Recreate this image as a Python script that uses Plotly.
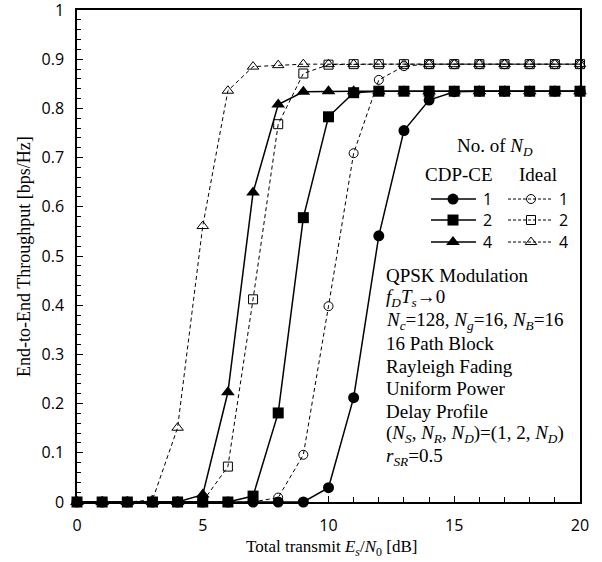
import plotly.graph_objects as go

snr_db = list(range(0, 21))

cdp_nd1 = [0, 0, 0, 0, 0, 0, 0, 0, 0, 0, 0.029, 0.212, 0.541, 0.755, 0.817, 0.834, 0.835, 0.835, 0.835, 0.835, 0.835]
cdp_nd2 = [0, 0, 0, 0, 0, 0, 0, 0.012, 0.181, 0.578, 0.783, 0.832, 0.835, 0.835, 0.835, 0.835, 0.835, 0.835, 0.835, 0.835, 0.835]
cdp_nd4 = [0, 0, 0, 0, 0, 0.015, 0.223, 0.629, 0.808, 0.834, 0.835, 0.835, 0.835, 0.835, 0.835, 0.835, 0.835, 0.835, 0.835, 0.835, 0.835]
ideal_nd1 = [0, 0, 0, 0, 0, 0, 0, 0, 0.009, 0.096, 0.398, 0.709, 0.858, 0.886, 0.89, 0.89, 0.89, 0.89, 0.89, 0.89, 0.89]
ideal_nd2 = [0, 0, 0, 0, 0, 0.001, 0.072, 0.412, 0.768, 0.871, 0.889, 0.89, 0.89, 0.89, 0.89, 0.89, 0.89, 0.89, 0.89, 0.89, 0.89]
ideal_nd4 = [0, 0, 0, 0.004, 0.151, 0.561, 0.836, 0.885, 0.888, 0.89, 0.89, 0.89, 0.89, 0.89, 0.89, 0.89, 0.89, 0.89, 0.89, 0.89, 0.89]

nd_labels = ["1", "2", "4"]
x_ticks = [0, 5, 10, 15, 20]
y_ticks = [0, 0.1, 0.2, 0.3, 0.4, 0.5, 0.6, 0.7, 0.8, 0.9, 1]
y_tick_text = ["0", "0.1", "0.2", "0.3", "0.4", "0.5", "0.6", "0.7", "0.8", "0.9", "1"]

SERIF = "Liberation Serif"
SANS = "Open Sans"

# plot area in figure pixels
L, R, T, B = 77, 580, 10, 502
W, H = 602, 562


def px_to_data_x(px):
    return (px - L) / (R - L) * 20.0


def px_to_data_y(py):
    return (B - py) / (B - T)


def px_to_paper_x(px):
    return (px - L) / (R - L)


def px_to_paper_y(py):
    return (B - py) / (B - T)


fig = go.Figure()

ideal_specs = [(ideal_nd4, "triangle-up-open", 10), (ideal_nd2, "square-open", 9), (ideal_nd1, "circle-open", 9)]
for ys, sym, sz in ideal_specs:
    fig.add_trace(go.Scatter(x=snr_db, y=ys, mode="lines+markers",
                             line=dict(color="black", width=1, dash="4px,3px"),
                             marker=dict(symbol=sym, size=sz, color="black", line=dict(width=1, color="black")),
                             cliponaxis=False, showlegend=False))

cdp_specs = [(cdp_nd1, "circle", 11), (cdp_nd2, "square", 11), (cdp_nd4, "triangle-up", 12)]
for ys, sym, sz in cdp_specs:
    fig.add_trace(go.Scatter(x=snr_db, y=ys, mode="lines+markers",
                             line=dict(color="black", width=1.5),
                             marker=dict(symbol=sym, size=sz, color="black", line=dict(width=0)),
                             cliponaxis=False, showlegend=False))

# legend keys
row_y = [199, 220, 242]
cdp_syms = [("circle", 11), ("square", 11), ("triangle-up", 12)]
ideal_syms = [("circle-open", 9), ("square-open", 9), ("triangle-up-open", 10)]
for ry, (cs, csz), (isym, isz), lab in zip(row_y, cdp_syms, ideal_syms, nd_labels):
    yy = px_to_data_y(ry)
    fig.add_trace(go.Scatter(x=[px_to_data_x(431), px_to_data_x(476)], y=[yy, yy],
                             mode="lines", line=dict(color="black", width=1.5), showlegend=False))
    fig.add_trace(go.Scatter(x=[px_to_data_x(453)], y=[yy], mode="markers",
                             marker=dict(symbol=cs, size=csz, color="black"), showlegend=False))
    fig.add_trace(go.Scatter(x=[px_to_data_x(508), px_to_data_x(553)], y=[yy, yy],
                             mode="lines", line=dict(color="black", width=1, dash="3px,2px"), showlegend=False))
    fig.add_trace(go.Scatter(x=[px_to_data_x(531)], y=[yy], mode="markers",
                             marker=dict(symbol=isym, size=isz, color="black", line=dict(width=1, color="black")),
                             showlegend=False))
    for lx in (487, 563):
        fig.add_annotation(x=px_to_paper_x(lx), y=px_to_paper_y(ry), xref="paper", yref="paper",
                           text=lab, showarrow=False,
                           font=dict(family=SANS, size=16, color="black"), xanchor="center", yanchor="middle")


def ann(x, y, text, size=19, xanchor="left", angle=0, family=SERIF):
    fig.add_annotation(x=px_to_paper_x(x), y=px_to_paper_y(y), xref="paper", yref="paper",
                       text=text, showarrow=False,
                       font=dict(family=family, size=size, color="black"),
                       xanchor=xanchor, yanchor="middle", textangle=angle)


ann(455, 147, "No. of <i>N<sub>D</sub></i>")
ann(459, 175, "CDP-CE", xanchor="center")
ann(538, 175, "Ideal", xanchor="center")

info_lines = [
    "QPSK Modulation",
    "<i>f<sub>D</sub>T<sub>s</sub></i>→0",
    "<i>N<sub>c</sub></i>=128, <i>N<sub>g</sub></i>=16, <i>N<sub>B</sub></i>=16",
    "16 Path Block",
    "Rayleigh Fading",
    "Uniform Power",
    "Delay Profile",
    "(<i>N<sub>S</sub></i>, <i>N<sub>R</sub></i>, <i>N<sub>D</sub></i>)=(1, 2, <i>N<sub>D</sub></i>)",
    "<i>r<sub>SR</sub></i>=0.5",
]
for i, t in enumerate(info_lines):
    ann(384, 275 + i * 22.75, t)

ann(24, 257, "End-to-End Throughput [bps/Hz]", size=18, xanchor="center", angle=-90)
ann(331, 548, "Total transmit <i>E<sub>s</sub></i>/<i>N</i><sub>0</sub> [dB]", size=17, xanchor="center")

axis_common = dict(ticks="inside", ticklen=6, tickwidth=1, tickcolor="black",
                   showline=True, linewidth=1.5, linecolor="black", mirror=True,
                   showgrid=False, zeroline=False, ticklabeloverflow="allow",
                   tickfont=dict(family=SANS, size=16, color="black"), ticklabelstandoff=8)

fig.update_layout(
    width=W, height=H,
    margin=dict(l=L, r=W - R, t=T, b=H - B, autoexpand=False),
    paper_bgcolor="white", plot_bgcolor="white",
    xaxis=dict(range=[0, 20], tickvals=x_ticks,
               minor=dict(dtick=1, ticks="inside", ticklen=5, tickcolor="black"), **axis_common),
    yaxis=dict(range=[0, 1.0001], tickvals=y_ticks, ticktext=y_tick_text,
               minor=dict(dtick=0.02, ticks="inside", ticklen=4, tickcolor="black"), **axis_common),
)

fig.write_html("out.html", config={"displayModeBar": False},
               post_script="document.body.style.margin='0px';document.body.style.overflow='hidden';")
